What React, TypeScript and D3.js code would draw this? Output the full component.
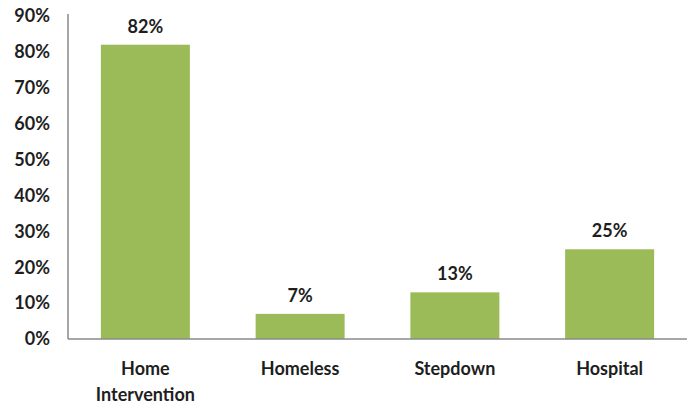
import React from "react";
import * as d3 from "d3";

const categories: string[][] = [["Home", "Intervention"], ["Homeless"], ["Stepdown"], ["Hospital"]];
const values: number[] = [82, 7, 13, 25];
const yTicks: number[] = [0, 10, 20, 30, 40, 50, 60, 70, 80, 90];

const W = 690;
const H = 404;
const left = 68;
const right = 687;
const top = 16;
const bottom = 339;

export default function App() {
  const x = d3.scaleBand<number>().domain(d3.range(values.length)).range([left, right]).paddingInner(0.425).paddingOuter(0.2125);
  const y = d3.scaleLinear().domain([0, 90]).range([bottom, top]);
  const font = "Lato, 'Open Sans', sans-serif";
  const fs = 18;
  return (
    <div style={{ position: "absolute", left: 0, top: 0 }}>
      <svg width={W} height={H} style={{ display: "block", background: "#fff" }}>
        {values.map((v, i) => (
          <rect key={i} x={x(i)} y={y(v)} width={x.bandwidth()} height={bottom - y(v)} fill="#9BBB59" />
        ))}
        <line x1={left} x2={left} y1={14} y2={bottom} stroke="#8a8a8a" strokeWidth={1.5} />
        <line x1={left} x2={right} y1={bottom} y2={bottom} stroke="#8a8a8a" strokeWidth={1.5} />
        {yTicks.map((t) => (
          <text key={t} x={50} y={y(t)} dy="0.35em" textAnchor="end" fontFamily={font} fontWeight="bold" fontSize={fs} fill="#1e1e1e">
            {t}%
          </text>
        ))}
        {values.map((v, i) => (
          <text key={i} x={(x(i) as number) + x.bandwidth() / 2} y={y(v) - 12} textAnchor="middle" fontFamily={font} fontWeight="bold" fontSize={fs} fill="#1e1e1e">
            {v}%
          </text>
        ))}
        {categories.map((lines, i) =>
          lines.map((s, j) => (
            <text key={i + "-" + j} x={(x(i) as number) + x.bandwidth() / 2} y={369 + j * 26} dy="0.35em" textAnchor="middle" fontFamily={font} fontWeight="bold" fontSize={fs} fill="#1e1e1e">
              {s}
            </text>
          ))
        )}
      </svg>
    </div>
  );
}
